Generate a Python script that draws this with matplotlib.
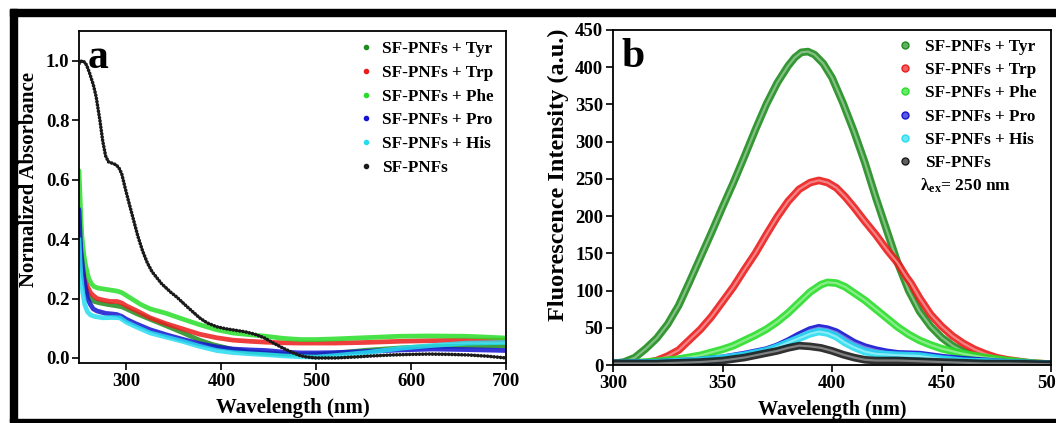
import matplotlib
matplotlib.use('Agg')
import matplotlib.pyplot as plt
from matplotlib.lines import Line2D
from matplotlib.patches import Rectangle

plt.rcParams['font.family'] = 'Liberation Serif'
plt.rcParams['font.weight'] = 'bold'
plt.rcParams['axes.labelweight'] = 'bold'
plt.rcParams['mathtext.fontset'] = 'custom'
plt.rcParams['mathtext.rm'] = 'Liberation Serif:bold'
plt.rcParams['mathtext.it'] = 'Liberation Serif:bold'
plt.rcParams['mathtext.bf'] = 'Liberation Serif:bold'
plt.rcParams['mathtext.default'] = 'rm'

LABELS = ['SF-PNFs + Tyr', 'SF-PNFs + Trp', 'SF-PNFs + Phe',
          'SF-PNFs + Pro', 'SF-PNFs + His', 'SF-PNFs']
COLORS = ['#1e8c1e', '#ec1c1c', '#28de28', '#1414d2', '#28dcf0', '#1a1a1a']

# ---- panel a: normalized absorbance ----
abs_tyr_x = [250, 251, 252, 254, 256, 259, 262, 266, 272, 280, 290, 295, 300, 310, 325, 342, 360, 377,
             391, 410, 430, 447, 465, 483, 500, 520, 553, 590, 623, 660, 700]
abs_tyr_y = [0.45, 0.39, 0.34, 0.29, 0.25, 0.22, 0.2, 0.19, 0.185, 0.18, 0.175, 0.172, 0.165, 0.15, 0.13,
             0.108, 0.084, 0.06, 0.045, 0.03, 0.02, 0.016, 0.013, 0.011, 0.011, 0.016, 0.026, 0.034, 0.039,
             0.04, 0.04]

abs_trp_x = [250, 251, 252, 254, 256, 259, 262, 265, 269, 275, 283, 290, 295, 300, 310, 325, 342, 360,
             377, 395, 412, 430, 447, 465, 483, 500, 520, 550, 588, 620, 658, 700]
abs_trp_y = [0.47, 0.41, 0.36, 0.31, 0.27, 0.24, 0.22, 0.21, 0.2, 0.195, 0.19, 0.19, 0.185, 0.175, 0.16,
             0.135, 0.115, 0.097, 0.08, 0.068, 0.06, 0.056, 0.053, 0.051, 0.05, 0.05, 0.05, 0.052, 0.056,
             0.058, 0.06, 0.06]

abs_phe_x = [250, 251, 252, 253, 255, 257, 260, 263, 266, 270, 280, 290, 295, 300, 307, 315, 325, 342,
             360, 377, 395, 412, 430, 447, 465, 483, 500, 520, 550, 588, 620, 658, 680, 700]
abs_phe_y = [0.63, 0.55, 0.47, 0.41, 0.35, 0.31, 0.27, 0.25, 0.24, 0.235, 0.23, 0.225, 0.22, 0.21, 0.196,
             0.18, 0.165, 0.15, 0.13, 0.112, 0.095, 0.084, 0.078, 0.073, 0.066, 0.062, 0.062, 0.064, 0.068,
             0.073, 0.074, 0.073, 0.07, 0.067]

abs_pro_x = [250, 251, 252, 254, 256, 259, 262, 265, 269, 278, 285, 290, 295, 300, 310, 325, 342, 360,
             377, 395, 412, 430, 447, 465, 483, 500, 520, 553, 590, 623, 660, 700]
abs_pro_y = [0.5, 0.42, 0.36, 0.3, 0.25, 0.2, 0.18, 0.165, 0.158, 0.15, 0.148, 0.146, 0.14, 0.13, 0.115,
             0.095, 0.078, 0.062, 0.048, 0.037, 0.03, 0.027, 0.025, 0.02, 0.017, 0.017, 0.018, 0.022, 0.027,
             0.03, 0.028, 0.025]

abs_his_x = [250, 251, 252, 254, 256, 259, 262, 266, 275, 285, 293, 300, 310, 325, 342, 360, 377, 395,
             412, 430, 447, 465, 483, 500, 520, 553, 590, 623, 660, 700]
abs_his_y = [0.4, 0.33, 0.28, 0.22, 0.18, 0.155, 0.145, 0.14, 0.135, 0.136, 0.135, 0.12, 0.105, 0.084,
             0.07, 0.055, 0.039, 0.025, 0.018, 0.014, 0.011, 0.007, 0.004, 0.003, 0.008, 0.018, 0.033, 0.042,
             0.05, 0.052]

abs_pnf_x = [250, 253, 256, 258, 261, 265, 268, 272, 275, 278, 281, 285, 289, 292, 295, 298, 302, 307,
             312, 317, 322, 327, 332, 337, 342, 347, 353, 358, 363, 370, 377, 385, 395, 405, 415, 425, 435,
             445, 455, 465, 475, 483, 490, 500, 520, 540, 560, 580, 600, 620, 640, 660, 680, 700]
abs_pnf_y = [0.99, 1.0, 0.995, 0.985, 0.96, 0.92, 0.88, 0.8, 0.73, 0.68, 0.66, 0.655, 0.65, 0.64, 0.62,
             0.58, 0.53, 0.47, 0.41, 0.36, 0.32, 0.29, 0.27, 0.25, 0.235, 0.22, 0.205, 0.19, 0.175, 0.155,
             0.135, 0.118, 0.105, 0.098, 0.093, 0.088, 0.08, 0.068, 0.05, 0.033, 0.018, 0.008, 0.003, 0.0,
             0.0, 0.003, 0.007, 0.01, 0.012, 0.013, 0.012, 0.01, 0.006, 0.0]

# ---- panel b: fluorescence intensity ----
fl_tyr_x = [300, 305, 310, 315, 320, 325, 330, 335, 340, 345, 350, 355, 360, 365, 370, 375, 380, 383, 386,
            389, 392, 396, 400, 405, 410, 415, 420, 425, 430, 435, 440, 445, 450, 455, 460, 465, 470, 480,
            490, 500]
fl_tyr_y = [2, 4, 10, 22, 36, 55, 80, 112, 145, 178, 212, 245, 280, 316, 350, 379, 402, 413, 420, 421, 417,
            405, 386, 352, 314, 272, 225, 181, 137, 100, 72, 52, 37, 26, 18, 12, 8, 4, 2, 1]

fl_trp_x = [300, 310, 315, 320, 325, 330, 335, 340, 345, 350, 355, 360, 365, 370, 375, 380, 385, 390, 394,
            398, 402, 406, 410, 415, 420, 425, 430, 434, 436, 440, 445, 450, 455, 460, 465, 470, 475, 480,
            490, 500]
fl_trp_y = [2, 2, 3, 6, 12, 20, 34, 48, 65, 85, 105, 128, 150, 175, 199, 220, 236, 245, 248, 245, 238, 226,
            212, 193, 175, 155, 137, 118, 110, 90, 68, 52, 39, 29, 21, 15, 10, 7, 3, 1]

fl_phe_x = [300, 310, 320, 330, 340, 345, 350, 355, 360, 365, 370, 375, 380, 385, 390, 395, 398, 402, 406,
            410, 415, 420, 425, 430, 435, 440, 445, 450, 460, 470, 480, 490, 500]
fl_phe_y = [2, 3, 5, 8, 13, 17, 21, 26, 33, 40, 48, 58, 70, 84, 98, 108, 111, 110, 105, 97, 87, 75, 63, 51,
            41, 33, 27, 22, 15, 10, 6, 3, 1]

fl_pro_x = [300, 320, 340, 350, 360, 370, 375, 380, 385, 390, 394, 398, 402, 406, 410, 415, 420, 425, 430,
            440, 445, 450, 460, 470, 480, 490, 500]
fl_pro_y = [2, 3, 6, 9, 14, 20, 25, 32, 40, 47, 50, 48, 44, 37, 30, 24, 20, 17, 15, 14, 12, 10, 7, 5, 3, 2, 1]

fl_his_x = [300, 320, 340, 350, 360, 370, 375, 380, 385, 390, 394, 398, 402, 406, 410, 415, 420, 430, 440,
            445, 450, 460, 470, 480, 490, 500]
fl_his_y = [2, 3, 6, 9, 13, 19, 24, 30, 36, 42, 45, 43, 38, 30, 24, 18, 15, 13, 12, 10, 8, 5, 4, 3, 2, 1]

fl_pnf_x = [300, 320, 340, 350, 360, 370, 375, 380, 385, 390, 395, 400, 405, 410, 415, 420, 430, 440, 450,
            460, 470, 480, 500]
fl_pnf_y = [2, 2, 4, 6, 10, 16, 19, 23, 26, 25, 23, 19, 14, 10, 7, 6, 6, 5, 4, 3, 2, 2, 1]

abs_series = [(abs_tyr_x, abs_tyr_y), (abs_trp_x, abs_trp_y), (abs_phe_x, abs_phe_y),
              (abs_pro_x, abs_pro_y), (abs_his_x, abs_his_y), (abs_pnf_x, abs_pnf_y)]
fl_series = [(fl_tyr_x, fl_tyr_y), (fl_trp_x, fl_trp_y), (fl_phe_x, fl_phe_y),
             (fl_pro_x, fl_pro_y), (fl_his_x, fl_his_y), (fl_pnf_x, fl_pnf_y)]


def lighten(color, amount=0.45):
    c = matplotlib.colors.to_rgb(color)
    return tuple(v + (1 - v) * amount for v in c)


def style_axes(ax):
    for spine in ax.spines.values():
        spine.set_linewidth(1.3)
    ax.tick_params(direction='out', length=5, width=1.2, top=False, right=False, labelsize=13.5, pad=2)


fig = plt.figure(figsize=(10.56, 4.23), dpi=100)

# black frame around the figure
W, H = 1056, 423
fig.patches.append(Rectangle((10 / W, 1 - 16 / H), 1 - 10 / W, 7 / H, transform=fig.transFigure,
                             color='black', zorder=0))
fig.patches.append(Rectangle((10 / W, 1 / H), 7 / W, 1 - 10 / H, transform=fig.transFigure,
                             color='black', zorder=0))
fig.patches.append(Rectangle((10 / W, 1 / H), 1 - 10 / W, 3 / H, transform=fig.transFigure,
                             color='black', zorder=0))

ax1 = fig.add_axes([79 / W, 1 - 363 / H, 427 / W, 332 / H])
ax2 = fig.add_axes([613 / W, 1 - 365 / H, 438 / W, 335 / H])

for (x, y), col in zip(abs_series, COLORS):
    if col == '#1a1a1a':
        ax1.plot(x, y, color=col, lw=2.6, linestyle=(0, (0.05, 0.85)), dash_capstyle='round', zorder=5)
    else:
        ax1.plot(x, y, color=col, lw=3.4, alpha=0.85, solid_capstyle='round')

ax1.set_xlim(250, 700)
ax1.set_ylim(-0.017, 1.1)
ax1.set_xticks([300, 400, 500, 600, 700])
ax1.set_yticks([0.0, 0.2, 0.4, 0.6, 0.8, 1.0])
ax1.set_yticklabels(['0.0', '0.2', '0.4', '0.6', '0.8', '1.0'])
ax1.set_xlabel('Wavelength (nm)', fontsize=15, labelpad=6)
ax1.set_ylabel('Normalized Absorbance', fontsize=15)
ax1.yaxis.set_label_coords(-0.094, 0.554)
style_axes(ax1)
ax1.text(0.02, 0.975, 'a', transform=ax1.transAxes, fontsize=30, fontweight='bold', va='top', ha='left')

h1 = [Line2D([], [], color=c, marker='o', ms=3, lw=0) for c in COLORS]
ax1.legend(h1, LABELS, loc='upper left', bbox_to_anchor=(0.633, 1.0), frameon=False, fontsize=12.3,
           handlelength=0.8, handletextpad=0.5, labelspacing=0.45, borderaxespad=0.2)

for (x, y), col in zip(fl_series, COLORS):
    ax2.plot(x, y, color=col, lw=5.5, solid_capstyle='round', alpha=0.9)
    ax2.plot(x, y, color=lighten(col), lw=1.6, solid_capstyle='round')

ax2.set_xlim(300, 500)
ax2.set_ylim(0, 450)
ax2.set_xticks([300, 350, 400, 450, 500])
ax2.set_yticks(range(0, 451, 50))
ax2.set_xlabel('Wavelength (nm)', fontsize=14.5, labelpad=6)
ax2.set_ylabel('Fluorescence Intensity (a.u.)', fontsize=17.5)
ax2.yaxis.set_label_coords(-0.100, 0.567)
style_axes(ax2)
ax2.text(0.02, 0.975, 'b', transform=ax2.transAxes, fontsize=30, fontweight='bold', va='top', ha='left')

h2 = [Line2D([], [], color=c, marker='o', ms=5, lw=0, markeredgecolor=c,
             markerfacecolor=lighten(c, 0.3)) for c in COLORS]
ax2.legend(h2, LABELS, loc='upper left', bbox_to_anchor=(0.631, 1.0), frameon=False, fontsize=12.3,
           handlelength=0.8, handletextpad=0.8, labelspacing=0.43, borderaxespad=0.1)
fig.text(920 / W, 1 - 186 / H, r'$\lambda_{ex}$= 250 nm', fontsize=12.5, fontweight='bold',
         va='center', ha='left')

fig.savefig('out.png', dpi=100)
